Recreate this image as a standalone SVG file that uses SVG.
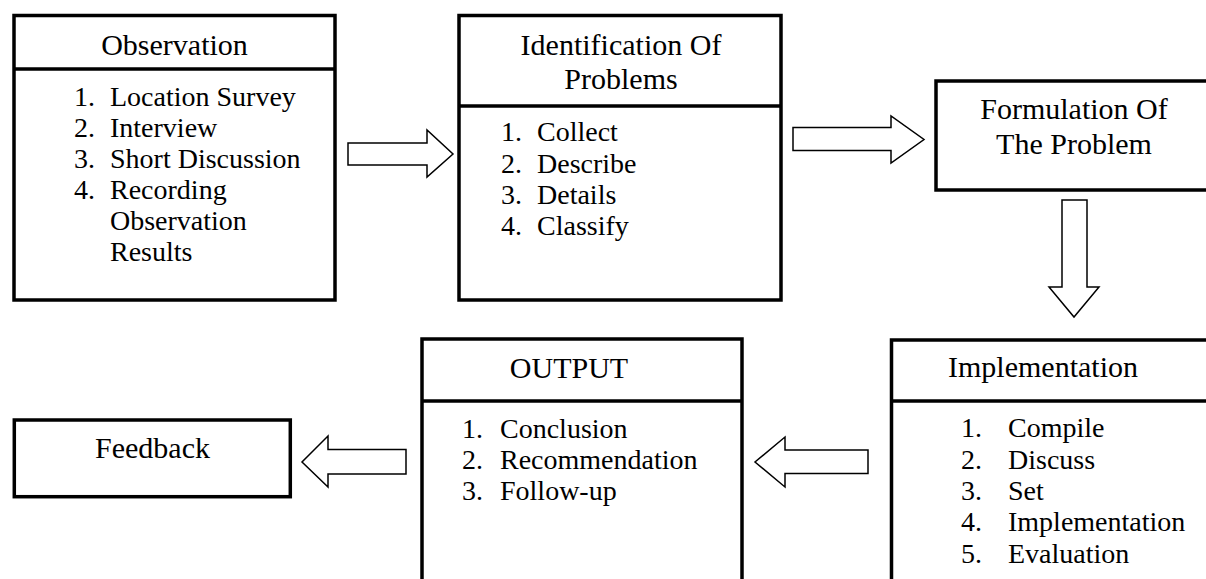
<svg xmlns="http://www.w3.org/2000/svg" width="1206" height="579" viewBox="0 0 1206 579">
<style>
.box{fill:#fff;stroke:#000;stroke-width:3.5}
.div{stroke:#000;stroke-width:3.5}
.arr{fill:#fff;stroke:#000;stroke-width:1.5;stroke-linejoin:miter}
.t{font-family:"Liberation Serif","Times New Roman",serif;font-size:30px;fill:#000;text-anchor:middle}
.l{font-family:"Liberation Serif","Times New Roman",serif;font-size:28px;fill:#000}
</style>
<rect width="1206" height="579" fill="#fff"/>
<g id="connectors">
<polygon class="arr" points="348,143 427,143 427,130 453,154 427,177 427,165 348,165"/>
<polygon class="arr" points="793,127.5 891,127.5 891,116 924,139.5 891,163 891,150.5 793,150.5"/>
<polygon class="arr" points="1062,200 1087,200 1087,287 1099,287 1074,317 1049,287 1062,287"/>
<polygon class="arr" points="868,450 785,450 785,437 755,462 785,487 785,473.5 868,473.5"/>
<polygon class="arr" points="406,449.5 328,449.5 328,436 302,462 328,487 328,474 406,474"/>
</g>
<g id="observation">
<rect class="box" x="14" y="15.5" width="321" height="284.5"/>
<line class="div" x1="14" y1="69" x2="335" y2="69"/>
<text class="t" x="174.5" y="55">Observation</text>
<text class="l" x="74" y="106">1.</text><text class="l" x="110" y="106">Location Survey</text>
<text class="l" x="74" y="137">2.</text><text class="l" x="110" y="137">Interview</text>
<text class="l" x="74" y="167.5">3.</text><text class="l" x="110" y="167.5">Short Discussion</text>
<text class="l" x="74" y="198.5">4.</text><text class="l" x="110" y="198.5">Recording</text>
<text class="l" x="110" y="229.5">Observation</text>
<text class="l" x="110" y="260.5">Results</text>
</g>
<g id="identification">
<rect class="box" x="459" y="15.5" width="322" height="284.5"/>
<line class="div" x1="459" y1="106" x2="781" y2="106"/>
<text class="t" x="621" y="55">Identification Of</text>
<text class="t" x="621" y="89">Problems</text>
<text class="l" x="501" y="141">1.</text><text class="l" x="537" y="141">Collect</text>
<text class="l" x="501" y="172.5">2.</text><text class="l" x="537" y="172.5">Describe</text>
<text class="l" x="501" y="204">3.</text><text class="l" x="537" y="204">Details</text>
<text class="l" x="501" y="235">4.</text><text class="l" x="537" y="235">Classify</text>
</g>
<g id="formulation">
<rect class="box" x="936" y="81" width="280" height="109"/>
<text class="t" x="1074" y="119">Formulation Of</text>
<text class="t" x="1074" y="154">The Problem</text>
</g>
<g id="implementation">
<rect class="box" x="891.5" y="340" width="330" height="260"/>
<line class="div" x1="891.5" y1="401" x2="1216" y2="401"/>
<text class="t" x="1043" y="377">Implementation</text>
<text class="l" x="961" y="437">1.</text><text class="l" x="1008" y="437">Compile</text>
<text class="l" x="961" y="468.5">2.</text><text class="l" x="1008" y="468.5">Discuss</text>
<text class="l" x="961" y="500">3.</text><text class="l" x="1008" y="500">Set</text>
<text class="l" x="961" y="531">4.</text><text class="l" x="1008" y="531">Implementation</text>
<text class="l" x="961" y="562.5">5.</text><text class="l" x="1008" y="562.5">Evaluation</text>
</g>
<g id="output">
<rect class="box" x="422" y="339" width="320" height="260"/>
<line class="div" x1="422" y1="401" x2="742" y2="401"/>
<text class="t" x="569" y="378">OUTPUT</text>
<text class="l" x="462" y="438">1.</text><text class="l" x="500" y="438">Conclusion</text>
<text class="l" x="462" y="469">2.</text><text class="l" x="500" y="469">Recommendation</text>
<text class="l" x="462" y="500">3.</text><text class="l" x="500" y="500">Follow-up</text>
</g>
<g id="feedback">
<rect class="box" x="14.3" y="420" width="276" height="76.7"/>
<text class="t" x="152.5" y="458">Feedback</text>
</g>
</svg>
